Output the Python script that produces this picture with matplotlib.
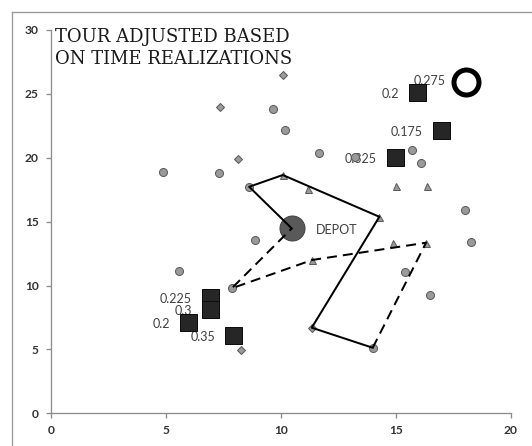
import matplotlib
matplotlib.use("Agg")
import matplotlib.pyplot as plt
from matplotlib.lines import Line2D

# ---- data ----
circle_x = [9.68, 10.19, 11.67, 4.87, 7.30, 8.63, 8.88, 13.23, 15.69, 16.10, 18.03, 18.29, 5.59, 7.87, 15.42, 16.49, 14.0]
circle_y = [23.8, 22.14, 20.34, 18.9, 18.8, 17.73, 13.56, 20.08, 20.63, 19.61, 15.91, 13.38, 11.11, 9.78, 11.06, 9.28, 5.13]

diamond_x = [7.37, 8.14, 10.09, 8.26, 11.35]
diamond_y = [24.0, 19.9, 26.47, 4.98, 6.70]

triangle_x = [10.09, 11.17, 15.01, 16.37, 14.29, 14.90, 16.32, 11.37]
triangle_y = [18.65, 17.55, 17.81, 17.81, 15.38, 13.30, 13.35, 12.0]

square_x = [15.94, 16.96, 14.97, 6.93, 6.93, 5.96, 7.94]
square_y = [25.12, 22.17, 20.08, 9.08, 8.16, 7.12, 6.13]
square_labels = ["0.2", "0.175", "0.325", "0.225", "0.3", "0.2", "0.35"]

ring_x = [18.04]
ring_y = [25.9]
ring_labels = ["0.275"]

depot_x = [10.48]
depot_y = [14.47]
depot_label = "DEPOT"

solid_route_x = [10.48, 8.63, 10.09, 14.29, 11.35, 14.0]
solid_route_y = [14.47, 17.73, 18.65, 15.38, 6.70, 5.13]
dashed_route_x = [14.0, 16.32, 11.37, 7.87, 10.48]
dashed_route_y = [5.13, 13.35, 12.0, 9.78, 14.47]

title_text = "TOUR ADJUSTED BASED\nON TIME REALIZATIONS"
x_ticks = [0, 5, 10, 15, 20]
y_ticks = [0, 5, 10, 15, 20, 25, 30]

# ---- figure ----
W, H, DPI = 532, 446, 72
fig = plt.figure(figsize=(W / DPI, H / DPI), dpi=DPI)
ax = fig.add_axes([50.7 / W, 1 - 413.3 / H, 460 / W, 383.3 / H])

# outer chart border (left + top visible)
fig.add_artist(Line2D([12 / W, 12 / W], [0, 1 - 12 / H], transform=fig.transFigure, color="#999999", lw=1.3))
fig.add_artist(Line2D([12 / W, 1], [1 - 12 / H, 1 - 12 / H], transform=fig.transFigure, color="#999999", lw=1.3))

gray_face = "#9a9a9a"
gray_edge = "#5a5a5a"

ax.plot(depot_x, depot_y, "o", ms=25, mfc="#595959", mec="#404040", mew=1, zorder=2, ls="none")

ax.plot(circle_x, circle_y, "o", ms=8, mfc=gray_face, mec=gray_edge, mew=1, ls="none", zorder=3)
ax.plot(diamond_x, diamond_y, "D", ms=5, mfc=gray_face, mec=gray_edge, mew=1, ls="none", zorder=3)
ax.plot(triangle_x, triangle_y, "^", ms=7, mfc=gray_face, mec=gray_edge, mew=1, ls="none", zorder=3)

ax.plot(solid_route_x, solid_route_y, "-", color="black", lw=2, zorder=4)
ax.plot(dashed_route_x, dashed_route_y, "--", color="black", lw=2, dashes=(5, 3), zorder=4)

ax.plot(square_x, square_y, "s", ms=17, mfc="#262626", mec="#0d0d0d", mew=1, ls="none", zorder=5)
ax.plot(ring_x, ring_y, "o", ms=25, mfc="white", mec="black", mew=5, ls="none", zorder=5)

lab_font = dict(family="Lato", fontsize=12.5, color="#404040")
for x, y, t in zip(square_x, square_y, square_labels):
    ax.annotate(t, (x, y), xytext=(-18, -2), textcoords="offset points",
                ha="right", va="center", zorder=1.5, **lab_font)
for x, y, t in zip(ring_x, ring_y, ring_labels):
    ax.annotate(t, (x, y), xytext=(-20, 1.5), textcoords="offset points",
                ha="right", va="center", zorder=1.5, **lab_font)
ax.annotate(depot_label, (depot_x[0], depot_y[0]), xytext=(24, -1.5), textcoords="offset points",
            ha="left", va="center", zorder=1.5, **lab_font)

ax.text(55 / W, 1 - 28 / H, title_text, transform=fig.transFigure, ha="left", va="top",
        family="DejaVu Serif", fontsize=18, color="#1a1a1a", linespacing=1.3)

ax.set_xlim(0, 20)
ax.set_ylim(0, 30)
ax.set_xticks(x_ticks)
ax.set_yticks(y_ticks)
for s in ["top", "right"]:
    ax.spines[s].set_visible(False)
for s in ["left", "bottom"]:
    ax.spines[s].set_color("#8c8c8c")
    ax.spines[s].set_linewidth(1.3)
ax.tick_params(direction="out", length=5, width=1.3, color="#8c8c8c", labelcolor="#333333",
               labelsize=12, pad=7)
for lab in ax.get_xticklabels() + ax.get_yticklabels():
    lab.set_family("Lato")
    lab.set_fontweight("bold")

fig.savefig("out.png", dpi=DPI)
